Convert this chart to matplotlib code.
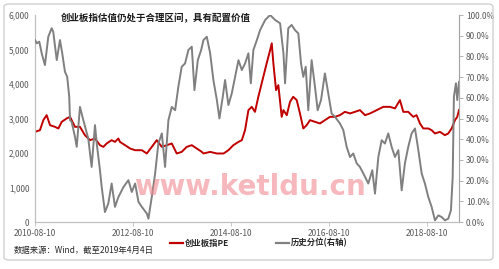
import matplotlib
matplotlib.use("Agg")
import matplotlib.pyplot as plt
import matplotlib.dates as mdates
from matplotlib.patches import FancyBboxPatch
from matplotlib.lines import Line2D
from matplotlib.ticker import FuncFormatter, MultipleLocator
import pandas as pd

plt.rcParams['font.family'] = ['Noto Sans CJK SC', 'DejaVu Sans']

title = "创业板指估值仍处于合理区间，具有配置价值"
source = "数据来源：Wind，截至2019年4月4日"
pe_label = "创业板指PE"
pct_label = "历史分位(右轴)"
watermark = "www.ketldu.cn"
xtick_dates = ["2010-08-10", "2012-08-10", "2014-08-10", "2016-08-10", "2018-08-10"]

pe_dates = [
    "2010-08-10", "2010-09-16", "2010-10-11", "2010-11-05", "2010-11-30", "2011-01-06",
    "2011-01-31", "2011-02-25", "2011-04-03", "2011-04-28", "2011-06-04", "2011-07-11",
    "2011-08-17", "2011-09-24", "2011-10-31", "2011-12-07", "2012-01-01", "2012-01-26",
    "2012-03-03", "2012-03-28", "2012-04-22", "2012-05-04", "2012-06-11", "2012-07-18",
    "2012-08-25", "2012-10-14", "2012-11-20", "2012-12-27", "2013-02-02", "2013-03-12",
    "2013-04-18", "2013-05-25", "2013-07-01", "2013-08-07", "2013-09-13", "2013-10-21",
    "2013-11-27", "2014-01-04", "2014-01-16", "2014-03-07", "2014-04-26", "2014-06-15",
    "2014-07-21", "2014-08-27", "2014-10-04", "2014-10-29", "2014-11-22", "2014-12-17",
    "2015-01-11", "2015-02-04", "2015-03-01", "2015-04-07", "2015-05-02", "2015-05-28",
    "2015-06-09", "2015-06-21", "2015-07-11", "2015-07-28", "2015-08-22", "2015-09-04",
    "2015-09-29", "2015-10-23", "2015-11-16", "2015-12-12", "2016-01-05", "2016-01-30",
    "2016-02-24", "2016-03-20", "2016-04-26", "2016-06-02", "2016-07-09", "2016-08-16",
    "2016-09-22", "2016-10-29", "2016-12-05", "2017-01-12", "2017-02-18", "2017-03-27",
    "2017-05-04", "2017-06-10", "2017-07-30", "2017-09-17", "2017-11-06", "2017-12-13",
    "2018-01-19", "2018-02-13", "2018-03-22", "2018-04-28", "2018-05-23", "2018-06-17",
    "2018-07-12", "2018-08-18", "2018-09-12", "2018-10-07", "2018-11-13", "2018-12-20",
    "2019-01-14", "2019-02-08", "2019-03-05", "2019-03-22", "2019-04-04",
]
pe_values = [
    2613, 2662, 2952, 3097, 2807, 2758,
    2711, 2903, 3002, 3048, 2758, 2758,
    2517, 2372, 2421, 2227, 2177, 2276,
    2372, 2322, 2421, 2322, 2227, 2131,
    2081, 2081, 1986, 2177, 2372, 2177,
    2227, 2276, 1986, 2032, 2177, 2227,
    2131, 2032, 1986, 2032, 1986, 1986,
    2081, 2227, 2322, 2372, 2662, 3243,
    3338, 3193, 3629, 4209, 4598, 4984,
    5179, 4598, 3823, 3968, 3048, 3243,
    3097, 3484, 3629, 3533, 3147, 2711,
    2807, 2952, 2903, 2857, 2952, 3048,
    3048, 3097, 3193, 3147, 3193, 3243,
    3097, 3147, 3243, 3338, 3338, 3292,
    3533, 3193, 3193, 3048, 3097, 2857,
    2711, 2711, 2662, 2566, 2613, 2517,
    2566, 2711, 2952, 3048, 3243,
]

pct_dates = [
    "2010-08-10", "2010-08-23", "2010-09-11", "2010-09-29", "2010-10-23", "2010-11-17",
    "2010-12-12", "2010-12-24", "2011-01-19", "2011-02-12", "2011-03-01", "2011-03-21",
    "2011-04-07", "2011-04-22", "2011-04-28", "2011-05-10", "2011-06-04", "2011-06-17",
    "2011-07-11", "2011-08-05", "2011-08-25", "2011-09-11", "2011-10-06", "2011-10-31",
    "2011-11-13", "2011-12-07", "2011-12-20", "2012-01-13", "2012-02-07", "2012-03-03",
    "2012-03-28", "2012-04-22", "2012-05-30", "2012-07-06", "2012-07-31", "2012-08-25",
    "2012-09-19", "2012-10-14", "2012-11-20", "2012-12-02", "2012-12-27", "2013-01-21",
    "2013-02-14", "2013-03-12", "2013-04-05", "2013-04-30", "2013-05-25", "2013-06-19",
    "2013-07-13", "2013-08-07", "2013-09-01", "2013-09-26", "2013-10-21", "2013-11-10",
    "2013-12-05", "2013-12-30", "2014-01-16", "2014-02-10", "2014-03-07", "2014-03-31",
    "2014-04-26", "2014-05-15", "2014-06-09", "2014-06-26", "2014-07-21", "2014-08-15",
    "2014-09-09", "2014-10-04", "2014-10-29", "2014-11-22", "2014-12-17", "2015-01-04",
    "2015-01-23", "2015-02-18", "2015-03-14", "2015-04-21", "2015-05-28", "2015-07-04",
    "2015-08-10", "2015-09-04", "2015-09-16", "2015-10-10", "2015-11-04", "2015-11-29",
    "2015-12-24", "2016-01-13", "2016-01-30", "2016-02-17", "2016-03-07", "2016-04-01",
    "2016-04-26", "2016-05-16", "2016-06-10", "2016-07-09", "2016-08-03", "2016-08-28",
    "2016-09-22", "2016-10-29", "2016-11-23", "2016-12-18", "2017-01-12", "2017-02-05",
    "2017-03-03", "2017-03-27", "2017-05-04", "2017-05-28", "2017-06-27", "2017-07-17",
    "2017-08-11", "2017-09-05", "2017-09-29", "2017-10-24", "2017-11-18", "2017-12-13",
    "2018-01-07", "2018-02-01", "2018-02-25", "2018-03-22", "2018-04-16", "2018-05-11",
    "2018-06-05", "2018-06-30", "2018-07-24", "2018-08-18", "2018-09-12", "2018-10-07",
    "2018-11-01", "2018-11-26", "2018-12-20", "2019-01-14", "2019-02-03", "2019-02-16",
    "2019-02-25", "2019-03-12", "2019-03-22", "2019-04-04",
]
pct_values = [
    87.9, 86.3, 87.1, 81.5, 75.8, 89.5,
    93.6, 91.9, 78.2, 87.9, 81.5, 72.6,
    70.1, 60.5, 49.2, 48.4, 41.1, 36.3,
    55.6, 49.2, 44.4, 40.3, 26.6, 46.8,
    37.9, 25.0, 16.9, 4.8, 8.9, 18.6,
    7.3, 12.0, 16.9, 20.2, 14.5, 18.6,
    9.7, 7.3, 4.1, 1.6, 12.1, 23.4,
    37.9, 42.8, 26.6, 49.2, 55.6, 54.0,
    65.3, 75.0, 76.6, 83.1, 84.7, 63.7,
    78.2, 83.1, 87.9, 89.5, 81.5, 68.6,
    58.9, 50.0, 60.5, 68.6, 56.5, 62.1,
    70.1, 78.2, 73.4, 76.6, 81.5, 67.0,
    83.1, 87.9, 92.7, 97.6, 100.0, 97.6,
    96.0, 81.5, 67.0, 93.6, 95.2, 92.7,
    91.1, 76.6, 70.1, 75.0, 54.0, 78.2,
    65.3, 54.0, 58.9, 71.8, 62.1, 52.4,
    50.8, 47.6, 44.4, 36.3, 31.4, 33.1,
    28.3, 26.6, 21.8, 18.6, 25.0, 13.7,
    31.4, 39.5, 37.9, 42.8, 36.3, 31.4,
    34.7, 15.3, 28.3, 36.3, 42.8, 45.2,
    34.7, 23.4, 18.6, 12.1, 7.3, 0.8,
    3.2, 2.4, 0.8, 1.6, 5.7, 21.8,
    60.5, 67.0, 58.9, 67.7,
]

W, H = 499, 269
fig = plt.figure(figsize=(W / 100, H / 100), dpi=100)
fig.patch.set_facecolor('white')

def fx(px):
    return px / W

def fy(py):
    return 1 - py / H

# outer frame
frame = FancyBboxPatch((fx(4), fy(260)), fx(489), 256 / H,
                       boxstyle="round,pad=0,rounding_size=0.01",
                       transform=fig.transFigure, facecolor='none',
                       edgecolor='#d0d0d0', linewidth=1.0)
fig.patches.append(frame)

ax = fig.add_axes([fx(35), fy(222), fx(459 - 35), (222 - 15) / H])
ax2 = ax.twinx()

pe_x = pd.to_datetime(pe_dates)
pct_x = pd.to_datetime(pct_dates)

ax.plot(pe_x, pe_values, color='#c00000', linewidth=1.4, zorder=3)
ax2.plot(pct_x, pct_values, color='#808080', linewidth=1.4, zorder=3)

ax.set_xlim(pd.Timestamp("2010-08-10"), pd.Timestamp("2019-04-04"))
ax.set_ylim(0, 6000)
ax2.set_ylim(0, 100)

tick_col = '#595959'
ax.yaxis.set_major_locator(MultipleLocator(1000))
ax.yaxis.set_major_formatter(FuncFormatter(lambda v, p: f"{int(v):,}"))
ax2.yaxis.set_major_locator(MultipleLocator(10))
ax2.yaxis.set_major_formatter(FuncFormatter(lambda v, p: f"{v:.1f}%"))

ax.set_xticks(pd.to_datetime(xtick_dates))
ax.xaxis.set_major_formatter(mdates.DateFormatter("%Y-%m-%d"))

ax.tick_params(axis='y', length=0, labelsize=6, labelcolor=tick_col, pad=4)
ax.tick_params(axis='x', length=3, width=0.6, color='#bfbfbf', labelsize=6,
               labelcolor=tick_col, pad=2)
ax2.tick_params(axis='y', length=3, width=0.6, color='#a6a6a6', labelsize=6,
                labelcolor=tick_col, pad=2)

for a in (ax, ax2):
    a.spines['top'].set_visible(False)
    a.spines['left'].set_color('#bfbfbf')
    a.spines['bottom'].set_color('#bfbfbf')
    a.spines['right'].set_color('#a6a6a6')
    for s in a.spines.values():
        s.set_linewidth(0.8)
    a.patch.set_visible(False)

# title
fig.text(fx(156), fy(18), title, ha='center', va='center', fontsize=6.8,
         fontweight='bold', color='#1a1a1a')

# watermark
fig.text(fx(250), fy(195), watermark, ha='center', va='baseline', fontsize=20,
         fontweight='bold', color='#f08a90', alpha=0.6,
         family=['DejaVu Sans'], zorder=0)

# legend
fig.add_artist(Line2D([fx(170), fx(183)], [fy(243), fy(243)], color='#c00000',
                      linewidth=1.6, transform=fig.transFigure))
fig.text(fx(185), fy(243), pe_label, ha='left', va='center', fontsize=6,
         fontweight='bold', color='#262626')
fig.add_artist(Line2D([fx(276), fx(289)], [fy(243), fy(243)], color='#808080',
                      linewidth=1.6, transform=fig.transFigure))
fig.text(fx(291), fy(243), pct_label, ha='left', va='center', fontsize=6,
         fontweight='bold', color='#262626')

# source
fig.text(fx(14), fy(250), source, ha='left', va='center', fontsize=6,
         color='#262626')

fig.savefig("out.png", dpi=100)
